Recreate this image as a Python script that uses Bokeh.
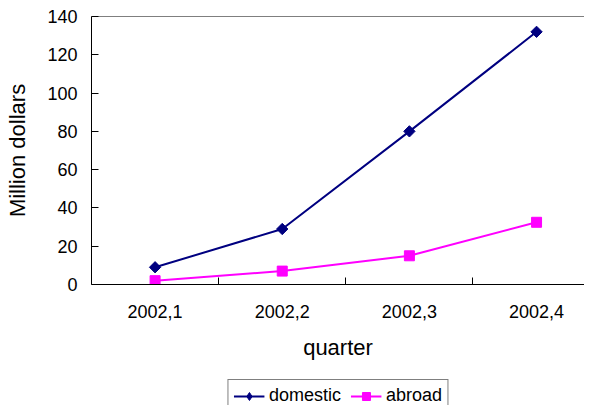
from bokeh.plotting import figure
from bokeh.layouts import column
from bokeh.models import Range1d, LinearAxis, FixedTicker, Span, Legend, LegendItem
from bokeh.embed import file_html
from bokeh.resources import INLINE

quarters = ["2002,1", "2002,2", "2002,3", "2002,4"]
domestic = [9, 29, 80, 132]
abroad = [2, 7, 15, 32.5]
y_ticks = [0, 20, 40, 60, 80, 100, 120, 140]

FONT = "Liberation Sans"
x_pos = [i + 0.5 for i in range(len(quarters))]
boundaries = [float(i) for i in range(1, len(quarters))]

p = figure(width=584, height=369, output_backend="svg", toolbar_location=None,
           x_range=Range1d(0, 3.877), y_range=Range1d(0, 140),
           x_axis_location=None, y_axis_location="left",
           min_border_left=80, min_border_top=16, min_border_bottom=85,
           min_border_right=0)
p.outline_line_color = None
p.grid.visible = False
p.background_fill_color = "white"
p.border_fill_color = "white"

ya = p.yaxis[0]
ya.ticker = FixedTicker(ticks=y_ticks)
ya.major_tick_in = 7
ya.major_tick_out = 0
ya.minor_tick_line_color = None
ya.axis_line_color = "black"
ya.major_tick_line_color = "black"
ya.major_label_text_font = FONT
ya.major_label_text_font_size = "18px"
ya.major_label_text_color = "black"
ya.major_label_standoff = 14
ya.axis_label = "Million dollars"
ya.axis_label_text_font = FONT
ya.axis_label_text_font_size = "22px"
ya.axis_label_text_font_style = "normal"
ya.axis_label_text_color = "black"
ya.axis_label_standoff = 14

xa1 = LinearAxis(ticker=FixedTicker(ticks=boundaries),
                 major_label_overrides={b: "" for b in boundaries},
                 major_label_text_font_size="0px", major_label_standoff=0,
                 major_tick_in=7, major_tick_out=0,
                 minor_tick_line_color=None, axis_line_color="black",
                 major_tick_line_color="black")
p.add_layout(xa1, "below")

xa2 = LinearAxis(ticker=FixedTicker(ticks=x_pos),
                 major_label_overrides={x: q for x, q in zip(x_pos, quarters)},
                 axis_line_color=None, major_tick_line_color=None,
                 minor_tick_line_color=None, major_tick_in=0, major_tick_out=0,
                 major_label_text_font=FONT, major_label_text_font_size="18px",
                 major_label_text_color="black", major_label_standoff=20,
                 axis_label="quarter", axis_label_text_font=FONT,
                 axis_label_text_font_size="22px", axis_label_text_font_style="normal",
                 axis_label_text_color="black", axis_label_standoff=14)
p.add_layout(xa2, "below")

p.add_layout(Span(location=y_ticks[-1], dimension="width", line_color="black", line_width=1))

p.line(x_pos, domestic, line_color="#000080", line_width=2)
p.scatter(x_pos, domestic, marker="square", angle=0.7854, size=8,
          fill_color="#000080", line_color="#000080")
p.line(x_pos, abroad, line_color="#FF00FF", line_width=2)
p.scatter(x_pos, abroad, marker="square", size=10,
          fill_color="#FF00FF", line_color="#FF00FF")

# legend strip below the chart
q = figure(width=584, height=36, output_backend="svg", toolbar_location=None,
           x_range=Range1d(0, 1), y_range=Range1d(0, 1),
           x_axis_location=None, y_axis_location=None,
           min_border_left=91, min_border_right=0, min_border_top=0, min_border_bottom=0)
q.outline_line_color = None
q.grid.visible = False
q.border_fill_color = "white"
l1 = q.line(x_pos, domestic, line_color="#000080", line_width=2, visible=False)
m1 = q.scatter(x_pos, domestic, marker="diamond", size=12,
               fill_color="#000080", line_color="#000080", visible=False)
l2 = q.line(x_pos, abroad, line_color="#FF00FF", line_width=2, visible=False)
m2 = q.scatter(x_pos, abroad, marker="square", size=10,
               fill_color="#FF00FF", line_color="#FF00FF", visible=False)

legend = Legend(items=[LegendItem(label="domestic", renderers=[l1, m1]),
                       LegendItem(label="abroad", renderers=[l2, m2])],
                location="top_center", orientation="horizontal",
                label_text_font=FONT, label_text_font_size="18px",
                label_text_color="black", glyph_width=31, glyph_height=20,
                label_height=20, label_standoff=5, spacing=9, padding=5, margin=10,
                border_line_color="black", border_line_width=1,
                background_fill_color="white", background_fill_alpha=1,
                inactive_fill_alpha=0)
q.add_layout(legend)

open("out.html", "w").write(file_html(column(p, q), INLINE))
